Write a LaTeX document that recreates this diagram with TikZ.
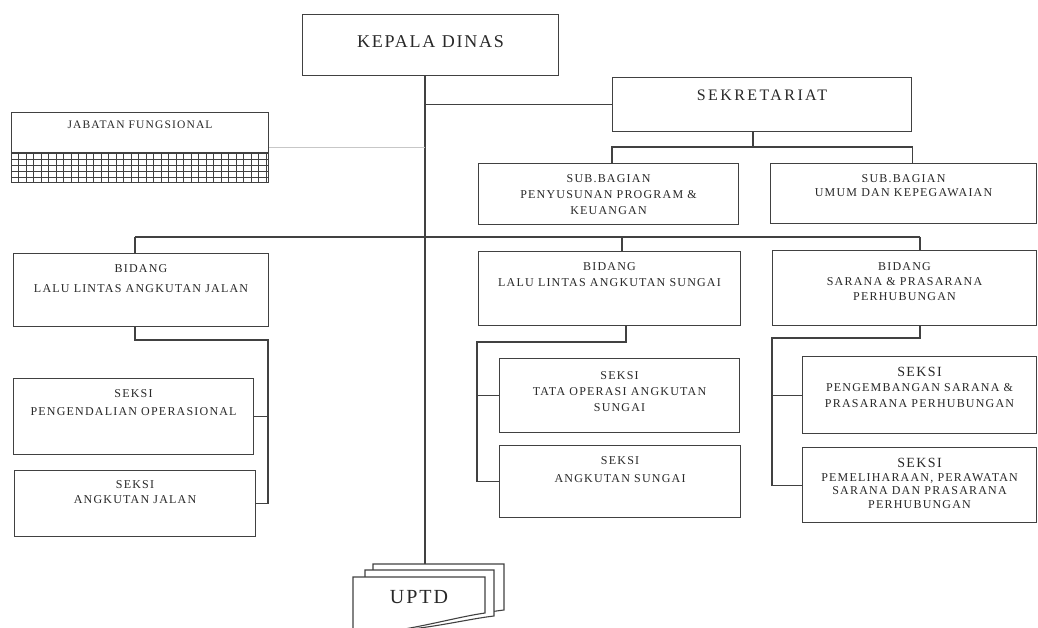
\documentclass[tikz,border=0pt]{standalone}
\usepackage{fontspec}
\setmainfont{Liberation Serif}
\newfontfamily\orgfont{Liberation Serif}[LetterSpace=10]
\newfontfamily\orgwide{Liberation Serif}[LetterSpace=15]

\definecolor{ink}{RGB}{40,40,40}
\definecolor{rule}{RGB}{65,65,65}
\tikzset{
	box/.style={draw=rule, line width=1.1pt, fill=white, anchor=north west, inner sep=0pt},
	lbl/.style={anchor=north, yshift=-11pt, align=center, inner sep=0pt, text=ink, font=\orgfont\fontsize{12}{16}\selectfont},
	link/.style={draw=rule, line width=1.1pt},
	faint/.style={draw=black!22, line width=1pt},
	gridln/.style={draw=rule, line width=0.9pt},
	doc/.style={draw=rule, line width=1.1pt, fill=white},
}

\begin{document}
\begin{tikzpicture}[x=1pt,y=-1pt]
		\useasboundingbox (0,0) rectangle (1038,628);

		% pimpinan dan sekretariat
		\node[box, minimum width=256pt, minimum height=61pt, label={[lbl,yshift=-10.5pt,font=\orgfont\fontsize{18}{20}\selectfont]north:KEPALA DINAS}] (kepala) at (302,14) {};
		\node[box, minimum width=299pt, minimum height=54pt, label={[lbl,yshift=-1.7pt,font=\orgwide\fontsize{16}{18}\selectfont]north:SEKRETARIAT}] (sekre) at (612,77) {};
		\node[box, minimum width=260pt, minimum height=61pt, label={[lbl]north:{SUB.BAGIAN\\PENYUSUNAN PROGRAM \&\\KEUANGAN}}] (subprog) at (478,163) {};
		\node[box, minimum width=266pt, minimum height=60pt, label={[lbl,font=\orgfont\fontsize{12}{14}\selectfont]north:{SUB.BAGIAN\\UMUM DAN KEPEGAWAIAN}}] (subumum) at (770,163) {};
		\node[box, minimum width=257pt, minimum height=70pt, label={[lbl,yshift=2pt,font=\orgfont\fontsize{11.5}{14}\selectfont]north:JABATAN FUNGSIONAL}] (jabatan) at (11,112) {};

		% bidang
		\node[box, minimum width=255pt, minimum height=73pt, label={[lbl,font=\orgfont\fontsize{12}{20}\selectfont]north:{BIDANG\\LALU LINTAS ANGKUTAN JALAN}}] (bllaj) at (13,253) {};
		\node[box, minimum width=262pt, minimum height=74pt, label={[lbl]north:{BIDANG\\LALU LINTAS ANGKUTAN SUNGAI}}] (bllas) at (478,251) {};
		\node[box, minimum width=264pt, minimum height=75pt, label={[lbl,yshift=-1pt,font=\orgfont\fontsize{12}{15}\selectfont]north:{BIDANG\\SARANA \& PRASARANA\\PERHUBUNGAN}}] (bsarana) at (772,250) {};

		% seksi
		\node[box, minimum width=240pt, minimum height=76pt, label={[lbl,font=\orgfont\fontsize{12}{18}\selectfont]north:{SEKSI\\PENGENDALIAN OPERASIONAL}}] (skpeng) at (13,378) {};
		\node[box, minimum width=241pt, minimum height=66pt, label={[lbl,yshift=1pt,font=\orgfont\fontsize{12}{15}\selectfont]north:{SEKSI\\ANGKUTAN JALAN}}] (skjalan) at (14,470) {};
		\node[box, minimum width=240pt, minimum height=74pt, label={[lbl,yshift=-2pt]north:{SEKSI\\TATA OPERASI ANGKUTAN\\SUNGAI}}] (sktata) at (499,358) {};
		\node[box, minimum width=241pt, minimum height=72pt, label={[lbl,font=\orgfont\fontsize{12}{18}\selectfont]north:{SEKSI\\ANGKUTAN SUNGAI}}] (sksungai) at (499,445) {};
		\node[box, minimum width=234pt, minimum height=77pt, label={[lbl,font=\orgfont\fontsize{12}{15.5}\selectfont]north:{{\fontsize{14}{16}\selectfont SEKSI}\\PENGEMBANGAN SARANA \&\\PRASARANA PERHUBUNGAN}}] (skbang) at (802,356) {};
		\node[box, minimum width=234pt, minimum height=75pt, label={[lbl,font=\orgfont\fontsize{12}{13.7}\selectfont]north:{{\fontsize{14}{16}\selectfont SEKSI}\\PEMELIHARAAN, PERAWATAN\\SARANA DAN PRASARANA\\PERHUBUNGAN}}] (skrawat) at (802,447) {};

		% arsiran jabatan fungsional
		\draw[link] (jabatan.west |- 0,153) -- (jabatan.east |- 0,153);
		\foreach \gx in {18.5,26,...,266}
			\draw[gridln] (\gx,153) -- (\gx,182);
		\foreach \gy in {159,165,...,177}
			\draw[gridln] (11,\gy) -- (268,\gy);

		% uptd
		\path[doc] (373,564) -- (504,564) -- (504,610) .. controls (470,614) and (420,628) .. (373,626) -- cycle;
		\path[doc] (365,570) -- (494,570) -- (494,616) .. controls (460,620) and (410,634) .. (365,630) -- cycle;
		\path[doc] (353,577) -- (485,577) -- (485,613) .. controls (450,618) and (400,634) .. (353,634) -- cycle;
		\node[text=ink, font=\orgfont\fontsize{20}{22}\selectfont] (uptd) at (419,597) {UPTD};

		% garis komando
		\coordinate (trunk) at (425,0);
		\coordinate (uptdtop) at (425,564);
		\draw[link] (trunk |- kepala.south) -- (uptdtop);
		\draw[link] (trunk |- sekre.west) -- (sekre.west);
		\draw[faint] (jabatan.east) -- (trunk |- jabatan.east);

		\coordinate (sbar) at (0,147);
		\draw[link] (sekre.south -| 753,0) -- (753,147);
		\draw[link] (subprog.north -| sekre.west) -- (sekre.west |- sbar) -- (sekre.east |- sbar) -- (subumum.north -| sekre.east);

		\coordinate (d1) at (135,237);
		\coordinate (d2) at (622,237);
		\coordinate (d3) at (920,237);
		\draw[link] (d1) -- (d3);
		\draw[link] (d1) -- (d1 |- bllaj.north);
		\draw[link] (d2) -- (d2 |- bllas.north);
		\draw[link] (d3) -- (d3 |- bsarana.north);

		\coordinate (r1) at (268,340);
		\draw[link] (d1 |- bllaj.south) -- (d1 |- r1) -- (r1) -- (r1 |- skjalan.east) -- (skjalan.east);
		\draw[link] (skpeng.east) -- (r1 |- skpeng.east);

		\coordinate (s2) at (626,342);
		\coordinate (r2) at (477,342);
		\draw[link] (s2 |- bllas.south) -- (s2) -- (r2) -- (r2 |- sksungai.west) -- (sksungai.west);
		\draw[link] (r2 |- sktata.west) -- (sktata.west);

		\coordinate (s3) at (920,338);
		\coordinate (r3) at (772,338);
		\draw[link] (s3 |- bsarana.south) -- (s3) -- (r3) -- (r3 |- skrawat.west) -- (skrawat.west);
		\draw[link] (r3 |- skbang.west) -- (skbang.west);
	\end{tikzpicture}
\end{document}
